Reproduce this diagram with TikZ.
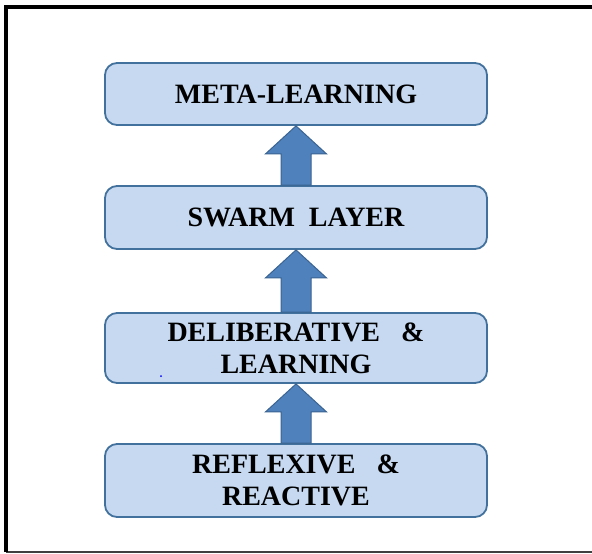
\documentclass[tikz,border=0pt]{standalone}
\usepackage{fontspec}
\setmainfont{Liberation Serif}
\usetikzlibrary{calc}
\definecolor{boxfill}{HTML}{C6D9F1}
\definecolor{boxline}{HTML}{41719C}
\definecolor{arrfill}{HTML}{4F81BD}
\definecolor{arrline}{HTML}{3A6391}
\begin{document}
\begin{tikzpicture}[x=1pt,y=-1pt,
  layerbox/.style={draw=boxline, line width=1.8pt, fill=boxfill, rounded corners=12pt,
    minimum width=382pt, inner sep=0pt, align=center,
    font=\fontsize{28}{32}\selectfont\bfseries, text=black},
  blockarrow/.style={draw=arrline, line width=1pt, fill=arrfill}]
\useasboundingbox (0,0) rectangle (592,554);
% frame
\draw[line width=1.2pt, black!75] (6,552) -- (592,552);
\draw[line width=4pt] (6,552) -- (6,7) -- (592,7);
% boxes
\node[layerbox, minimum height=62pt] (meta) at (296,94) {META-LEARNING};
\node[layerbox, minimum height=63pt] (swarm) at (296,217.5) {SWARM~ LAYER};
\node[layerbox, minimum height=70pt] (delib) at (296,348) {DELIBERATIVE~~ \&\\LEARNING};
\node[layerbox, minimum height=73pt] (reflex) at (296,480.5) {REFLEXIVE~~ \&\\REACTIVE};
% block arrows
\foreach \lo/\up in {swarm/meta, delib/swarm, reflex/delib}{
  \draw[blockarrow] ($(\lo.north)+(-15,0)$) -- ($(\up.south)+(-15,28)$)
    -- ($(\up.south)+(-30.5,28)$) -- (\up.south) -- ($(\up.south)+(30.5,28)$)
    -- ($(\up.south)+(15,28)$) -- ($(\lo.north)+(15,0)$) -- cycle;
}
\fill[blue] (161,376) circle (1pt);
\end{tikzpicture}
\end{document}
